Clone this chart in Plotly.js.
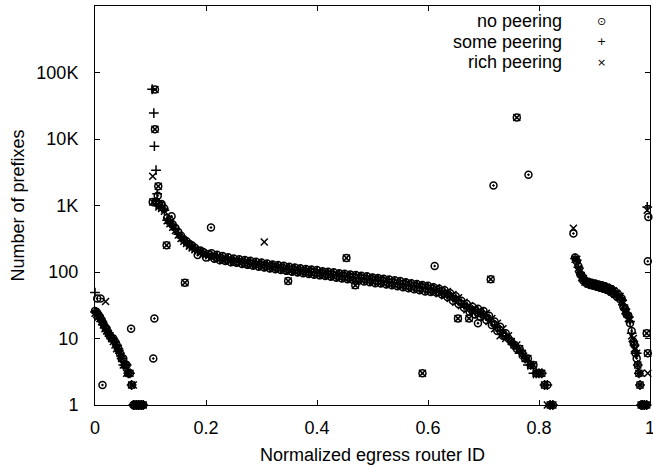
<!DOCTYPE html>
<html>
<head>
<meta charset="utf-8">
<script src="https://cdn.plot.ly/plotly-3.0.1.min.js"></script>
<style>html,body{margin:0;padding:0;background:#fff;}</style>
</head>
<body>
<div id="chart" style="width:653px;height:465px;"></div>
<script>
// ---- data ----
const seriesNames = ['no peering', 'some peering', 'rich peering'];

// shared normalized egress router IDs for the dense curves
const routerId = [
  // segment 1
  0,0.003,0.006,0.009,0.012,0.015,0.018,0.021,0.024,0.027,
  0.030,0.033,0.036,0.039,0.042,0.045,0.048,0.051,0.054,0.057,
  0.060,0.063,0.066,0.069,0.072,0.075,0.078,0.081,0.084,0.087,
  // segment 2
  0.110,0.115,0.120,0.125,0.130,0.135,0.140,0.145,0.150,0.155,
  0.160,0.165,0.170,0.175,0.180,0.185,0.190,0.195,0.200,0.205,
  0.210,0.215,0.220,0.225,0.230,0.235,0.240,0.245,0.250,0.255,
  0.260,0.265,0.270,0.275,0.280,0.285,0.290,0.295,0.300,0.305,
  0.310,0.315,0.320,0.325,0.330,0.335,0.340,0.345,0.350,0.355,
  0.360,0.365,0.370,0.375,0.380,0.385,0.390,0.395,0.400,0.405,
  0.410,0.415,0.420,0.425,0.430,0.435,0.440,0.445,0.450,0.455,
  0.460,0.465,0.470,0.475,0.480,0.485,0.490,0.495,0.500,0.505,
  0.510,0.515,0.520,0.525,0.530,0.535,0.540,0.545,0.550,0.555,
  0.560,0.565,0.570,0.575,0.580,0.585,0.590,0.595,0.600,0.605,
  0.610,0.615,0.620,0.625,0.630,0.635,0.640,0.645,0.650,0.655,
  0.660,0.665,0.670,0.675,0.680,0.685,0.690,0.695,0.700,0.705,
  0.710,0.715,0.720,0.725,0.730,0.735,0.740,0.745,0.750,0.755,
  0.760,0.765,0.770,0.775,0.780,0.785,0.790,0.795,0.800,0.805,
  0.810,0.815,0.820,0.825,
  // segment 3
  0.865,0.868,0.871,0.874,0.877,0.880,0.883,0.886,0.889,0.892,
  0.895,0.898,0.901,0.904,0.907,0.910,0.913,0.916,0.919,0.922,
  0.925,0.928,0.931,0.934,0.937,0.940,0.943,0.946,0.949,0.952,
  0.955,0.958,0.961,0.964,0.967,0.970,0.972,0.974,0.976,0.978,
  0.980,0.982,0.984,0.987,0.990
];

const noPeering = [
  26,25,23,21,19,17,15,14,12,11, 10,10,9,8,7,6,5,5,4,4, 3,3,2,1,1,1,1,1,1,1,
  1150,1050,1000,900,650,600,520,460,400,350,
  310,290,265,250,232,180,210,200,165,186,
  192,158,182,150,174,146,167,140,160,138,
  156,132,152,128,148,124,143,120,139,117,
  134,113,130,110,127,107,124,104,120,101,
  117,98,114,96,111,93,109,91,107,89,
  103,87,101,85,99,82,96,80,94,78,
  92,76,90,74,88,72,86,70,83,68,
  81,67,79,65,77,63,75,61,73,59,
  70,57,68,55,66,53,64,51,62,50,
  59,49,56,46,53,42,48,37,43,33,
  37,29,33,25,30,23,28,21,26,19,
  22,16,18,13,15,11,12,10,9,8,
  7,7,6,5,5,4,4,3,3,3,
  2,2,1,1,
  165,145,122,94,88,74,75,67,71,64,
  69,62,67,60,65,58,63,56,61,54,
  58,51,55,47,51,43,46,39,40,30,
  28,23,22,17,13,9,8,6,5,4,
  3,2,1,1,1
];

const somePeering = [
  25,24,22,20,18,16,15,13,12,11, 10,9,9,8,7,6,5,4,4,4, 3,3,2,1,1,1,1,1,1,1,
  1050,980,920,850,600,540,490,430,370,330,
  295,275,250,235,220,210,200,193,186,180,
  176,172,166,164,158,157,152,151,147,146,
  144,142,140,138,136,134,132,130,128,126,
  124,122,120,119,117,116,114,112,111,109,
  108,106,105,104,102,101,100,99,98,96,
  95,94,93,92,91,89,88,87,86,85,
  84,83,82,81,80,79,78,77,76,75,
  74,73,72,71,70,69,68,67,66,65,
  64,63,62,61,60,59,58,57,56,55,
  54,53,51,50,48,46,44,41,39,37,
  34,32,30,28,27,26,25,24,23,22,
  20,18,16,15,13,12,11,10,9,8,
  7,6,6,5,4,4,3,3,3,3,
  2,2,1,1,
  160,150,118,98,85,77,72,70,68,67,
  66,65,64,63,62,61,60,59,58,57,
  55,54,52,50,48,46,44,41,38,32,
  27,24,21,18,12,9,8,6,6,4,
  3,2,1,1,1
];

const richPeering = [
  24,23,21,20,18,16,14,13,12,11, 10,9,8,7,7,6,5,4,4,3, 3,3,2,2,1,1,1,1,1,1,
  1100,950,900,820,590,530,470,420,360,320,
  290,268,245,230,216,205,196,188,182,176,
  164,180,156,172,149,164,145,158,139,152,
  135,149,131,145,127,141,124,137,120,133,
  116,129,113,126,110,123,107,119,104,116,
  101,113,98,110,96,107,94,105,92,102,
  89,100,87,98,85,95,82,93,80,91,
  78,89,76,87,75,85,73,83,71,81,
  69,79,67,77,65,74,63,72,61,70,
  59,69,57,66,55,64,54,62,52,60,
  50,58,47,55,44,51,40,46,35,41,
  31,35,27,31,25,28,23,26,21,24,
  18,20,14,17,11,14,10,11,9,8,
  8,7,6,5,5,4,4,3,3,3,
  2,1,1,1,
  155,155,114,102,82,80,70,72,66,69,
  64,67,62,65,60,63,58,61,56,59,
  53,56,50,52,46,48,42,43,36,34,
  26,25,20,19,11,10,7,7,6,4,
  3,2,1,1,1
];

// isolated routers (outliers) per series
const noPeeringExtraX = [0.004,0.010,0.0135,0.065,0.105,0.107,0.108,0.108,0.113,0.114,0.104,0.120,0.138,0.129,0.162,0.209,0.348,0.453,0.469,0.590,0.612,0.654,0.674,0.690,0.713,0.718,0.760,0.781,0.862,0.994,0.996,0.996,0.997,0.994];
const noPeeringExtraY = [40,40,2,14,5,20,55600,14000,1400,1950,1130,1050,690,252,69,466,73,162,63,3,123,20,20,17,78,2000,21000,2900,380,12,6,145,670,1];
const somePeeringExtraX = [0,0.103,0.106,0.107,0.110,0.112,0.995,0.994];
const somePeeringExtraY = [49,56000,24500,7800,3400,1500,950,1];
const richPeeringExtraX = [0.019,0.108,0.108,0.104,0.114,0.104,0.129,0.162,0.305,0.348,0.453,0.469,0.590,0.654,0.674,0.713,0.760,0.862,0.994,0.996,0.984,0.996,0.995,0.994];
const richPeeringExtraY = [36,55600,14000,2750,1950,1130,252,69,283,73,162,63,3,20,20,78,21000,456,12,6,3,3,850,1];

const yTickVals = [1, 10, 100, 1000, 10000, 100000];
const yTickText = ['1', '10', '100', '1K', '10K', '100K'];
const legendGlyphs = ['\u2299', '+', '\u00d7'];

// ---- chart ----
const FONT = 'Liberation Sans, Arial, Helvetica, sans-serif';
function mk(name, xs, ys, ex, ey, symbol, size) {
  return {
    type: 'scatter', mode: 'markers', name: name,
    x: xs.concat(ex), y: ys.concat(ey),
    cliponaxis: false,
    marker: {symbol: symbol, size: size, color: 'black', line: {color: 'black', width: 1.5}}
  };
}
const traces = [
  mk(seriesNames[0], routerId, noPeering, noPeeringExtraX, noPeeringExtraY, 'circle-open-dot', 7),
  mk(seriesNames[1], routerId, somePeering, somePeeringExtraX, somePeeringExtraY, 'cross-thin-open', 7),
  mk(seriesNames[2], routerId, richPeering, richPeeringExtraX, richPeeringExtraY, 'x-thin-open', 7)
];

const legendY = [0.9624, 0.9105, 0.8586];
const annotations = [];
seriesNames.forEach((n, i) => {
  annotations.push({xref: 'paper', yref: 'paper', x: 0.843, y: legendY[i], xanchor: 'right', yanchor: 'middle',
    text: n, showarrow: false, borderpad: 0, font: {family: FONT, size: 18, color: 'black'}});
  annotations.push({xref: 'paper', yref: 'paper', x: 0.913, y: legendY[i], xanchor: 'center', yanchor: 'middle',
    text: legendGlyphs[i], showarrow: false, borderpad: 0, font: {family: 'DejaVu Sans', size: 11, color: 'black'}});
});

const layout = {
  width: 653, height: 465,
  margin: {l: 95, r: 3, t: 6, b: 60, pad: 0},
  paper_bgcolor: 'white', plot_bgcolor: 'white',
  font: {family: FONT, size: 18, color: 'black'},
  showlegend: false,
  annotations: annotations,
  xaxis: {
    range: [0, 1], tick0: 0, dtick: 0.2,
    ticks: 'inside', ticklen: 5, tickcolor: 'black', mirror: 'ticks',
    showline: true, linecolor: 'black', linewidth: 1,
    showgrid: false, zeroline: false, automargin: false,
    ticklabelstandoff: 6, ticklabeloverflow: 'allow',
    tickfont: {family: FONT, size: 18, color: 'black'},
    title: {text: 'Normalized egress router ID', standoff: 11, font: {family: FONT, size: 18, color: 'black'}}
  },
  yaxis: {
    type: 'log', range: [0, 6],
    tickmode: 'array', tickvals: yTickVals, ticktext: yTickText,
    ticks: 'inside', ticklen: 5, tickcolor: 'black', mirror: 'ticks',
    showline: true, linecolor: 'black', linewidth: 1,
    showgrid: false, zeroline: false, automargin: false,
    ticklabelstandoff: 12, ticklabeloverflow: 'allow',
    tickfont: {family: FONT, size: 18, color: 'black'},
    title: {text: 'Number of prefixes', standoff: 7, font: {family: FONT, size: 18, color: 'black'}}
  }
};

Plotly.newPlot('chart', traces, layout, {displayModeBar: false, staticPlot: true});
</script>
</body>
</html>
